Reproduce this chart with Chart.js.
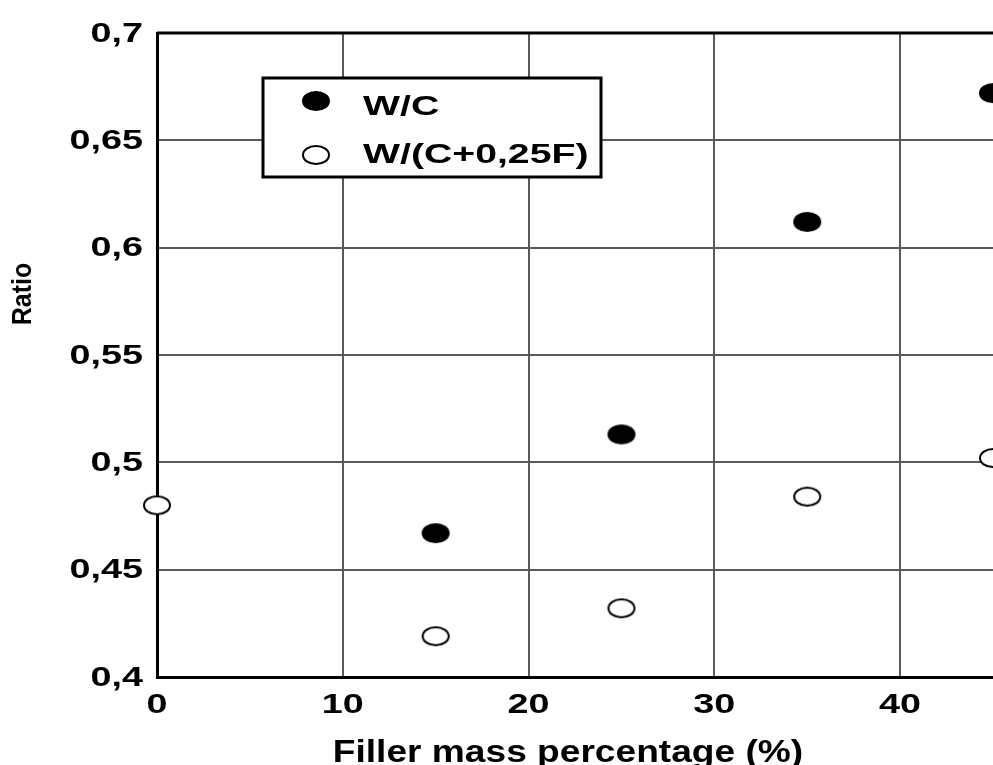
<!DOCTYPE html>
<html>
<head>
<meta charset="utf-8">
<script src="https://cdn.jsdelivr.net/npm/chart.js@4/dist/chart.umd.min.js"></script>
<style>
  html, body { margin: 0; padding: 0; background: #fff; overflow: hidden; }
  #wrap { width: 993px; height: 765px; }
</style>
</head>
<body>
<div id="wrap"><canvas id="ratioChart"></canvas></div>
<script>
// data
const fillerWC = [15, 25, 35, 45];
const ratioWC = [0.467, 0.513, 0.612, 0.672];
const fillerWCF = [0, 15, 25, 35, 45];
const ratioWCF = [0.480, 0.419, 0.432, 0.484, 0.502];
const xTicks = [0, 10, 20, 30, 40];
const yTicks = [0.4, 0.45, 0.5, 0.55, 0.6, 0.65, 0.7];
const seriesNames = ["W/C", "W/(C+0,25F)"];
const xTitle = "Filler mass percentage (%)";
const yTitle = "Ratio";

const FONT = "'Liberation Sans', Arial, sans-serif";

// the points in the figure are slightly squashed ellipses
function ellipseMarker(filled) {
    const c = document.createElement("canvas");
    c.width = 30; c.height = 22;
    const g = c.getContext("2d");
    g.beginPath();
    g.ellipse(15, 11, 13, 9, 0, 0, Math.PI * 2);
    g.fillStyle = filled ? "#000" : "#fff";
    g.fill();
    g.lineWidth = 2;
    g.strokeStyle = "#000";
    g.stroke();
    return c;
}
const filledDot = ellipseMarker(true);
const openDot = ellipseMarker(false);

const toPoints = (xs, ys) => xs.map((x, i) => ({ x: x, y: ys[i] }));
const fmt = v => String(Math.round(v * 100) / 100).replace(".", ",");

// the source figure is stretched sideways, so text is drawn widened
function wideText(ctx, text, x, y, size, sx, align) {
    ctx.save();
    ctx.font = "bold " + size + "px " + FONT;
    const w = ctx.measureText(text).width * sx;
    let left = x;
    if (align === "center") left = x - w / 2;
    if (align === "right") left = x - w;
    ctx.translate(left, y);
    ctx.scale(sx, 1);
    ctx.textAlign = "left";
    ctx.fillText(text, 0, 0);
    ctx.restore();
}

const axisText = {
    id: "axisText",
    afterDraw(chart) {
        const ctx = chart.ctx;
        const xs = chart.scales.x, ys = chart.scales.y;
        ctx.save();
        ctx.fillStyle = "#000";
        ctx.textBaseline = "middle";
        xTicks.forEach(v => wideText(ctx, fmt(v), xs.getPixelForValue(v), 705, 28, 1.35, "center"));
        yTicks.forEach(v => wideText(ctx, fmt(v), 143, ys.getPixelForValue(v) + 1, 28, 1.35, "right"));
        ctx.textBaseline = "alphabetic";
        wideText(ctx, xTitle, 568, 762, 32, 1.16, "center");
        // rotated y title
        ctx.save();
        ctx.translate(31, 294);
        ctx.rotate(-Math.PI / 2);
        ctx.scale(1, 1.1);
        ctx.font = "bold 25px " + FONT;
        ctx.textAlign = "center";
        ctx.fillText(yTitle, 0, 0);
        ctx.restore();
        ctx.restore();
    }
};

// legend box drawn inside the plot
const boxLegend = {
    id: "boxLegend",
    afterDatasetsDraw(chart) {
        const ctx = chart.ctx;
        ctx.save();
        ctx.fillStyle = "#fff";
        ctx.fillRect(263, 78, 338, 99);
        ctx.lineWidth = 3;
        ctx.strokeStyle = "#000";
        ctx.strokeRect(263, 78, 338, 99);
        const rows = [[filledDot, 101, 115], [openDot, 155, 163]];
        ctx.fillStyle = "#000";
        ctx.textBaseline = "alphabetic";
        rows.forEach((r, i) => {
            ctx.drawImage(r[0], 316 - 15, r[1] - 11);
            wideText(ctx, seriesNames[i], 363, r[2], 28, 1.4, "left");
        });
        ctx.restore();
    }
};

// top edge of the frame
const frameTop = {
    id: "frameTop",
    beforeDatasetsDraw(chart) {
        const a = chart.chartArea, ctx = chart.ctx;
        ctx.save();
        ctx.strokeStyle = "#000";
        ctx.lineWidth = 3;
        ctx.beginPath();
        ctx.moveTo(a.left, a.top);
        ctx.lineTo(a.right, a.top);
        ctx.stroke();
        ctx.restore();
    }
};

document.addEventListener("DOMContentLoaded", function () {
    const ctx = document.getElementById("ratioChart").getContext("2d");
    new Chart(ctx, {
        type: "scatter",
        data: {
            datasets: [{
                label: seriesNames[0],
                data: toPoints(fillerWC, ratioWC),
                pointStyle: filledDot,
                clip: false
            }, {
                label: seriesNames[1],
                data: toPoints(fillerWCF, ratioWCF),
                pointStyle: openDot,
                clip: false
            }]
        },
        options: {
            responsive: true,
            maintainAspectRatio: false,
            animation: false,
            events: [],
            layout: {
                autoPadding: false,
                padding: { top: 33, right: 0, left: 0, bottom: 0 }
            },
            plugins: {
                legend: { display: false },
                tooltip: { enabled: false }
            },
            scales: {
                x: {
                    type: "linear",
                    min: 0,
                    max: 45,
                    afterBuildTicks: s => { s.ticks = xTicks.map(v => ({ value: v })); },
                    afterFit: s => { s.height = 88; },
                    grid: { color: "#5a5a5a", lineWidth: 2, drawTicks: false },
                    border: { color: "#000", width: 3 },
                    ticks: { display: false }
                },
                y: {
                    type: "linear",
                    min: 0.4,
                    max: 0.7,
                    afterBuildTicks: s => { s.ticks = yTicks.map(v => ({ value: v })); },
                    afterFit: s => { s.width = 157; },
                    grid: { color: "#5a5a5a", lineWidth: 2, drawTicks: false },
                    border: { color: "#000", width: 3 },
                    ticks: { display: false }
                }
            }
        },
        plugins: [frameTop, boxLegend, axisText]
    });
});
</script>
</body>
</html>
